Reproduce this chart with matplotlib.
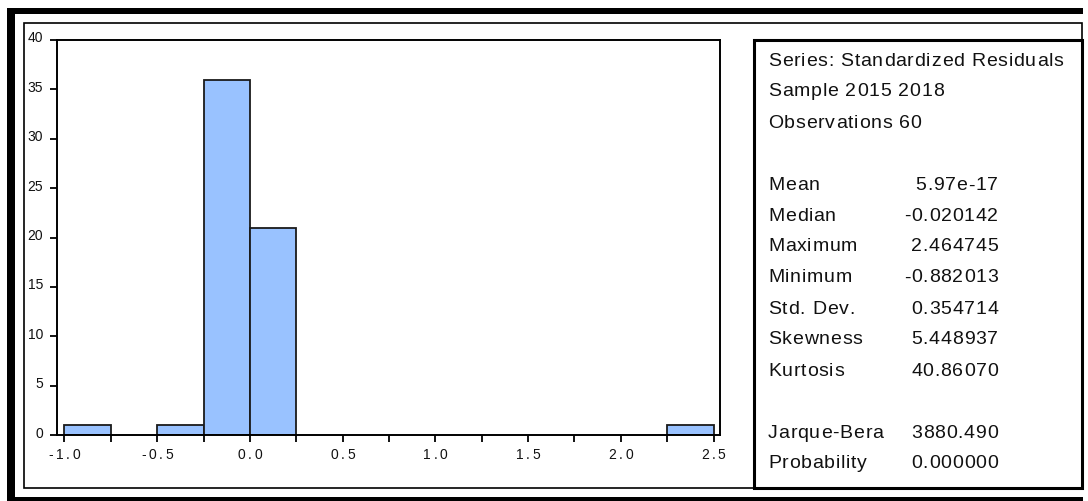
import matplotlib.pyplot as plt
import matplotlib.transforms as mtransforms
from matplotlib.patches import Rectangle
from matplotlib.font_manager import FontProperties, findfont
from matplotlib.ft2font import FT2Font
import numpy as np

plt.rcParams['font.family'] = ['Liberation Sans', 'DejaVu Sans']

# histogram of standardized residuals (bin width 0.25, empty bins left out)
bin_left = [-1.0, -0.5, -0.25, 0.0, 2.25]
counts = [1, 1, 36, 21, 1]
bin_width = 0.25

x_ticks = [-1.0, -0.5, 0.0, 0.5, 1.0, 1.5, 2.0, 2.5]
x_labels = ['-1.0', '-0.5', '0.0', '0.5', '1.0', '1.5', '2.0', '2.5']

header = ['Series: Standardized Residuals', 'Sample 2015 2018',
          'Observations 60']
stat_names = ['Mean', 'Median', 'Maximum', 'Minimum', 'Std. Dev.',
              'Skewness', 'Kurtosis']
stat_values = ['5.97e-17', '-0.020142', '2.464745', '-0.882013', '0.354714',
               '5.448937', '40.86070']
test_names = ['Jarque-Bera', 'Probability']
test_values = ['3880.490', '0.000000']

W, H = 1088, 501
fig = plt.figure(figsize=(W / 100, H / 100), dpi=100)


def fx(x):
    return x / W


def fy(y):
    return 1 - y / H


font = FT2Font(findfont(FontProperties(family='Liberation Sans')))


def spaced(x, y, s, size, gap, ha='left'):
    # lay the string out glyph by glyph with some extra tracking
    font.set_size(size, 100)
    advs = [font.load_char(ord(c)).linearHoriAdvance / 65536 + gap for c in s]
    total = sum(advs) - gap
    if ha == 'right':
        x -= total
    elif ha == 'center':
        x -= total / 2
    for c, a in zip(s, advs):
        if c != ' ':
            fig.text(fx(x), fy(y), c, fontsize=size, va='center', ha='left',
                     color='#111111')
        x += a


# outer heavy frame (top, left, bottom)
fig.add_artist(Rectangle((fx(7), fy(14)), fx(1083 - 7), fy(8) - fy(14),
                         color='black', lw=0))
fig.add_artist(Rectangle((fx(7), fy(501)), fx(8), fy(8) - fy(501),
                         color='black', lw=0))
fig.add_artist(Rectangle((fx(7), fy(501)), fx(1083 - 7), fy(497) - fy(501),
                         color='black', lw=0))
# inner panel
fig.add_artist(Rectangle((fx(24), fy(488)), fx(1082 - 24), fy(23) - fy(488),
                         fill=False, ec='black', lw=1.2))

# histogram axes
ax = fig.add_axes([fx(57), fy(435), fx(720 - 57), fy(40) - fy(435)])
ax.bar(bin_left, counts, width=bin_width, align='edge', color='#99c2ff',
       edgecolor='#1a1a1a', linewidth=1.3)
ax.set_xlim(-1.04, 2.535)
ax.set_ylim(0, 40)
ax.set_xticks(x_ticks)
ax.set_xticks(np.arange(-1.0, 2.51, 0.25), minor=True)
ax.set_yticks(range(0, 41, 5))
ax.tick_params(which='both', direction='out', length=5, width=1.3,
               color='black', labelsize=10, pad=5, labelcolor='#111111')
ax.tick_params(axis='x', labelbottom=False)
for s in ax.spines.values():
    s.set_linewidth(1.4)
    s.set_color('black')

offset = mtransforms.ScaledTranslation(0, 3 / 100, fig.dpi_scale_trans)
for lab in ax.get_yticklabels():
    lab.set_transform(lab.get_transform() + offset)

# x tick labels, placed under each tick
for v, t in zip(x_ticks, x_labels):
    px = ax.transData.transform((v, 0))[0]
    spaced(px, 455, t, 10, 2.5, ha='center')

# statistics box
fig.add_artist(Rectangle((fx(754), fy(488)), fx(1082 - 754), fy(40) - fy(488),
                         fill=False, ec='black', lw=2.2))

fs = 14
gap = 0.8
for t, y in zip(header, [61, 92, 124]):
    spaced(768, y, t, fs, gap)

for n, v, y in zip(stat_names, stat_values, [186, 216, 247, 278, 309, 340, 371]):
    spaced(768, y, n, fs, gap)
    spaced(998, y, v, fs, gap, ha='right')

for n, v, y in zip(test_names, test_values, [433, 464]):
    spaced(768, y, n, fs, gap)
    spaced(998, y, v, fs, gap, ha='right')

fig.savefig('out.png', dpi=100)
